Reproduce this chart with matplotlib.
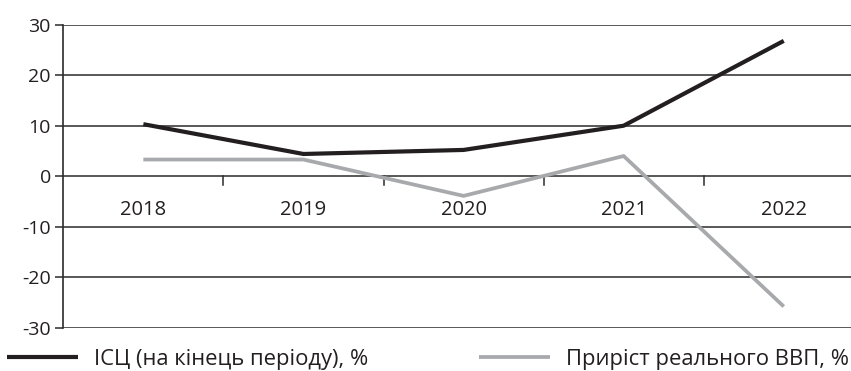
import matplotlib
matplotlib.use("Agg")
import matplotlib.pyplot as plt

years = ["2018", "2019", "2020", "2021", "2022"]
cpi = [10.3, 4.4, 5.2, 10.0, 26.8]
gdp = [3.3, 3.3, -3.9, 4.0, -25.8]
yticks = [-30, -20, -10, 0, 10, 20, 30]
label_cpi = "ІСЦ (на кінець періоду), %"
label_gdp = "Приріст реального ВВП, %"

plt.rcParams['font.family'] = ['Open Sans', 'DejaVu Sans']

W, H = 851, 371
fig = plt.figure(figsize=(W / 100, H / 100), dpi=100)
left, right, top, bottom = 63.3, 851, 24.7, 327.7
ax = fig.add_axes([left / W, 1 - bottom / H, (right - left) / W, (bottom - top) / H])

x = list(range(len(years)))
grid_c = "#2b2b2b"
l1, = ax.plot(x, cpi, color="#231f20", lw=3.0, solid_capstyle="butt", zorder=3)
l2, = ax.plot(x, gdp, color="#a7a9ac", lw=2.7, solid_capstyle="butt", zorder=3)

ax.set_ylim(-30, 30)
ax.set_xlim(-0.5, 4.42)
for v in yticks:
    ax.axhline(v, color=grid_c, lw=1.1, zorder=1)

for s in ["top", "right", "bottom"]:
    ax.spines[s].set_visible(False)
ax.spines["left"].set_color(grid_c)
ax.spines["left"].set_linewidth(1.2)

ax.set_yticks(yticks)
ax.set_yticklabels([str(v) for v in yticks])
ax.tick_params(axis="y", length=6, width=1.1, color=grid_c, pad=3, labelsize=14, labelcolor="#231f20")

# category boundary ticks on the zero line
bounds = [i + 0.5 for i in range(len(years) - 1)]
ax.set_xticks(bounds)
ax.set_xticklabels([])
ax.tick_params(axis="x", length=0)
for b in bounds:
    ax.plot([b, b], [0, -1.7], color=grid_c, lw=1.1, zorder=2, clip_on=False)

for i, yl in enumerate(years):
    ax.text(i, -6.6, yl, ha="center", va="center", fontsize=14.5, color="#231f20")

common = dict(loc="center left", frameon=False, fontsize=15.8,
              handlelength=3.25, handletextpad=0.72, borderaxespad=0, borderpad=0.3)
leg1 = fig.legend(handles=[l1], labels=[label_cpi],
                  bbox_to_anchor=(0.0, 1 - 359 / H), **common)
leg2 = fig.legend(handles=[l2], labels=[label_gdp],
                  bbox_to_anchor=(472 / W, 1 - 359 / H), **common)
for t in leg1.get_texts() + leg2.get_texts():
    t.set_color("#231f20")

fig.savefig("out.png", dpi=100)
